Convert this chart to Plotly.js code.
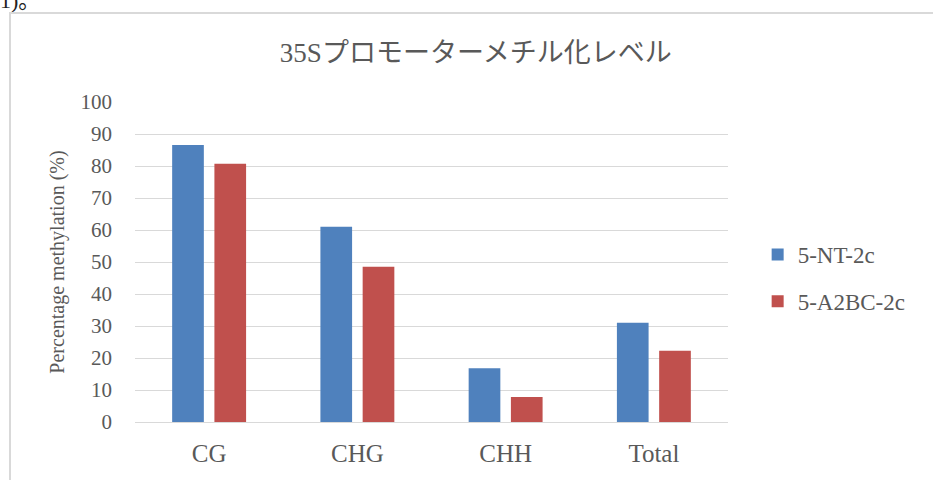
<!DOCTYPE html>
<html><head><meta charset="utf-8">
<script src="https://cdn.plot.ly/plotly-3.0.1.min.js"></script>
<style>
html,body{margin:0;padding:0;background:#fff;width:933px;height:480px;overflow:hidden;}
#chart{position:absolute;left:0;top:0;width:933px;height:480px;}
#frame{position:absolute;left:9px;top:12px;width:940px;height:480px;border:2px solid #d9d9d9;pointer-events:none;box-sizing:border-box;}
#cut{position:absolute;left:0px;top:-12px;font-family:'Liberation Serif','Noto Sans CJK JP',serif;font-size:22px;line-height:26px;color:#222;}
</style></head>
<body>
<div id="cut">1)。</div>
<div id="chart"></div>
<div id="frame"></div>
<script>
const categories = ["CG", "CHG", "CHH", "Total"];
const seriesNames = ["5-NT-2c", "5-A2BC-2c"];
const ntValues = [86.6, 61.0, 16.8, 31.0];
const a2bcValues = [80.7, 48.5, 7.8, 22.3];
const yTicks = [0, 10, 20, 30, 40, 50, 60, 70, 80, 90, 100];

const serif = 'Liberation Serif';
const traces = [
  {type:'bar', name:seriesNames[0], x:categories, y:ntValues, marker:{color:'#4f81bd'}, legendgroup:'a', hoverinfo:'none'},
  {type:'bar', name:seriesNames[1], x:categories, y:a2bcValues, marker:{color:'#c0504d'}, legendgroup:'b', hoverinfo:'none'}
];
const layout = {
  width:933, height:480,
  font:{family:serif, color:'#595959'},
  margin:{l:135, r:205, t:102, b:58},
  paper_bgcolor:'rgba(0,0,0,0)', plot_bgcolor:'rgba(0,0,0,0)',
  barmode:'group', bargap:0.43, bargroupgap:0.25,
  title:{text:'35Sプロモーターメチル化レベル', x:0.51, xref:'container', xanchor:'center', y:0.89, yref:'container', yanchor:'middle',
         font:{family:'Liberation Serif, Noto Sans CJK JP', size:27, color:'#595959'}},
  xaxis:{tickfont:{family:serif, size:25, color:'#595959'}, showgrid:false, showline:false, zeroline:false, ticks:'', ticklen:0, ticklabelstandoff:14},
  yaxis:{range:[0,100], tickvals:yTicks, ticktext:yTicks.map(String), showgrid:true, gridcolor:'#d9d9d9', gridwidth:1,
         zeroline:true, zerolinecolor:'#d9d9d9', zerolinewidth:1, showline:false, ticks:'', ticklabelstandoff:22,
         tickfont:{family:serif, size:21, color:'#595959'},
         title:{text:'Percentage methylation (%)', standoff:10, font:{family:serif, size:20, color:'#595959'}}},
  showlegend:true,
  legend:{x:1.05, xanchor:'left', y:0.45, yanchor:'middle', traceorder:'grouped', tracegroupgap:14,
          font:{family:serif, size:23, color:'#595959'}, bgcolor:'rgba(0,0,0,0)', itemwidth:30}
};
Plotly.newPlot('chart', traces, layout, {staticPlot:true, displayModeBar:false});
</script>
</body></html>
